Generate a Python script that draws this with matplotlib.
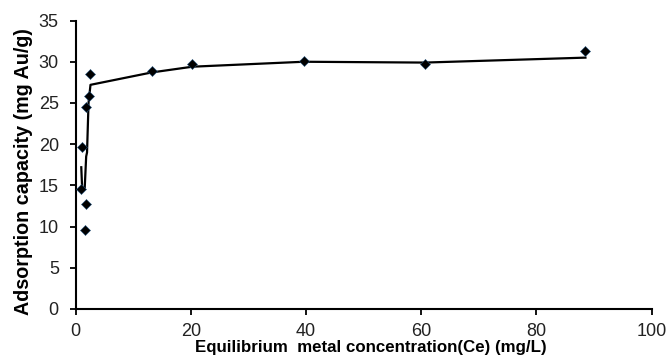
import matplotlib
matplotlib.use("Agg")
import matplotlib.pyplot as plt

# measured data
ce = [0.98, 1.15, 1.6, 1.85, 1.8, 2.26, 2.6, 13.2, 20.3, 39.6, 60.6, 88.5]
qe = [14.6, 19.6, 9.6, 12.7, 24.45, 25.9, 28.55, 28.9, 29.7, 30.1, 29.7, 31.25]

# fitted model line
fit_x = [1.0, 1.15, 1.6, 1.85, 2.0, 2.26, 2.6, 13.2, 20.3, 39.6, 60.6, 88.5]
fit_y = [17.2, 14.7, 14.7, 18.5, 19.0, 25.0, 27.2, 28.7, 29.4, 30.0, 29.9, 30.5]

xticks = [0, 20, 40, 60, 80, 100]
yticks = [0, 5, 10, 15, 20, 25, 30, 35]

fig = plt.figure(figsize=(6.7, 3.63), dpi=100)
ax = fig.add_axes([0.1127, 0.1488, 0.860, 0.7946])

ax.plot(fit_x, fit_y, color='black', lw=1.6, zorder=2)
ax.plot(ce, qe, linestyle='none', marker='D', markersize=5.5, color='black',
        markeredgecolor='#1f4e79', markeredgewidth=0.4, zorder=3)

ax.set_xlim(0, 100)
ax.set_ylim(0, 35)
ax.set_xticks(xticks)
ax.set_yticks(yticks)
ax.set_xticklabels([str(v) for v in xticks], fontfamily='Liberation Sans', fontsize=13, color='#222222')
ax.set_yticklabels([str(v) for v in yticks], fontfamily='Liberation Sans', fontsize=13, color='#222222')

for s in ['top', 'right']:
    ax.spines[s].set_visible(False)
for s in ['left', 'bottom']:
    ax.spines[s].set_linewidth(1.5)
ax.tick_params(axis='both', direction='out', length=4, width=1.3)
ax.tick_params(axis='y', pad=8)
ax.tick_params(axis='x', pad=6)

ax.set_xlabel('Equilibrium  metal concentration(Ce) (mg/L)', fontfamily='Liberation Sans',
              fontweight='bold', fontsize=12.2)
ax.set_ylabel('Adsorption capacity (mg Au/g)', fontfamily='Liberation Sans',
              fontweight='bold', fontsize=14.2)
ax.xaxis.set_label_coords(0.513, -0.108)
ax.xaxis.label.set_verticalalignment('top')
ax.yaxis.set_label_coords(-0.073, 0.477)

fig.savefig('out.png', dpi=100)
